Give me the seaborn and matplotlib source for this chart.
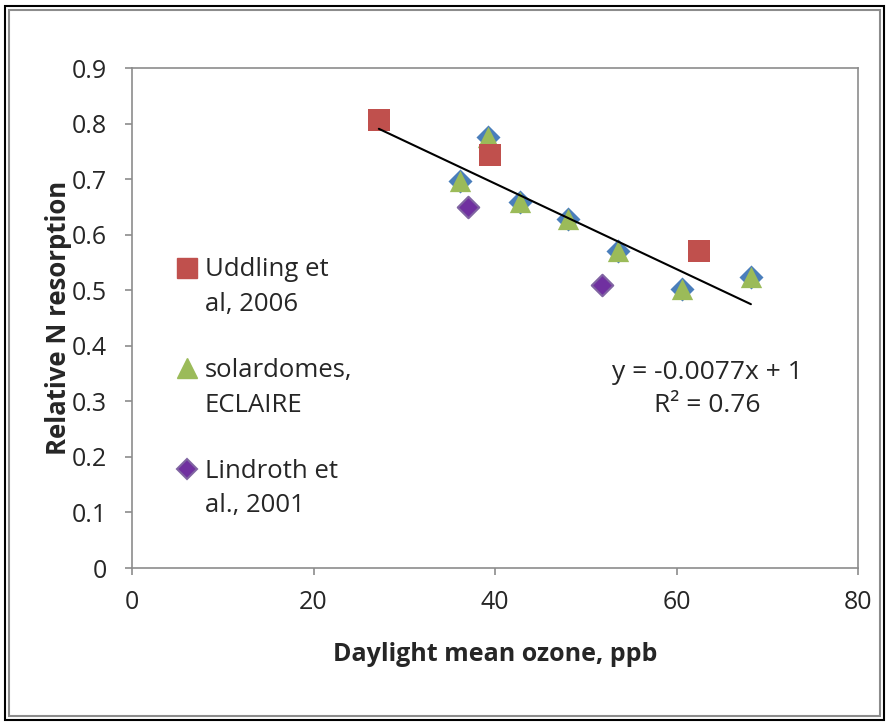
import matplotlib
matplotlib.use("Agg")
import matplotlib.pyplot as plt
import seaborn as sns
import numpy as np
import pandas as pd
from matplotlib.patches import Rectangle
from matplotlib.lines import Line2D

sns.set_theme(style="white")
plt.rcParams['font.family'] = ['Open Sans', 'DejaVu Sans']

# Data
uddling_x = [27.2, 39.4, 62.5]
uddling_y = [0.806, 0.743, 0.571]
solar_x = [36.1, 39.2, 42.8, 48.0, 53.6, 60.6, 68.2]
solar_y = [0.697, 0.776, 0.659, 0.629, 0.571, 0.502, 0.524]
lind_x = [37.0, 51.8]
lind_y = [0.650, 0.509]
trend_slope = -0.0077
trend_int = 1.0
trend_x = [27.2, 68.2]
xticks = [0, 20, 40, 60, 80]
yticks = [0, 0.1, 0.2, 0.3, 0.4, 0.5, 0.6, 0.7, 0.8, 0.9]
legend_lines = [('Uddling et', 'al, 2006'), ('solardomes,', 'ECLAIRE'), ('Lindroth et', 'al., 2001')]

FS = 18.5

fig = plt.figure(figsize=(8.89, 7.25), dpi=100)
ax = fig.add_axes([132/889, 1-568/725, (858-132)/889, (568-68)/725])

# outer frames
fig.patches.append(Rectangle((5/889, 5/725), 879/889, 714/725, transform=fig.transFigure,
                             fill=False, edgecolor='black', linewidth=1.5))
fig.patches.append(Rectangle((9/889, 9/725), 871/889, 706/725, transform=fig.transFigure,
                             fill=False, edgecolor='#8c8c8c', linewidth=1.5))

df_s = pd.DataFrame({'x': solar_x, 'y': solar_y})
df_u = pd.DataFrame({'x': uddling_x, 'y': uddling_y})
df_l = pd.DataFrame({'x': lind_x, 'y': lind_y})

# blue diamonds behind triangles
sns.scatterplot(data=df_s, x='x', y='y', marker='D', s=150, color='#4a7ebb',
                edgecolor='#4a7ebb', linewidth=0, ax=ax, legend=False, zorder=2)
sns.scatterplot(data=df_s, x='x', y='y', marker='^', s=235, color='#9bbb59',
                edgecolor='#9bbb59', linewidth=0, ax=ax, zorder=3, legend=False)
sns.scatterplot(data=df_u, x='x', y='y', marker='s', s=230, color='#c0504d',
                edgecolor='#c0504d', linewidth=0, ax=ax, zorder=3, legend=False)
sns.scatterplot(data=df_l, x='x', y='y', marker='D', s=120, color='#7030a0',
                edgecolor='#8064a2', linewidth=1.5, ax=ax, zorder=3, legend=False)

tx = np.array(trend_x)
ax.plot(tx, trend_slope * tx + trend_int, color='black', linewidth=1.5, zorder=4)

ax.set_xlim(0, 80)
ax.set_ylim(0, 0.9)
ax.set_xticks(xticks)
ax.set_yticks(yticks)
ax.set_xticklabels([str(t) for t in xticks], fontsize=18)
ax.set_yticklabels(['0'] + [f'{t:.1f}' for t in yticks[1:]], fontsize=18)
ax.tick_params(axis='both', direction='out', length=5, width=1.2, color='#8c8c8c',
               bottom=True, left=True)
ax.tick_params(axis='x', pad=11)
ax.tick_params(axis='y', pad=13)
for sp in ax.spines.values():
    sp.set_color('#8c8c8c')
    sp.set_linewidth(1.2)

ax.set_xlabel('Daylight mean ozone, ppb', fontsize=18, fontweight='bold', labelpad=19)
ax.set_ylabel('Relative N resorption', fontsize=18.5, fontweight='bold', labelpad=0)

blank = Line2D([], [], linestyle='none', marker=None)
mk = [Line2D([], [], linestyle='none', marker='s', markersize=14, color='#c0504d'),
      Line2D([], [], linestyle='none', marker='^', markersize=14, color='#9bbb59'),
      Line2D([], [], linestyle='none', marker='D', markersize=10, color='#7030a0',
             markeredgecolor='#8064a2', markeredgewidth=1.5)]
handles, labels, small = [], [], []
for i, (a, b) in enumerate(legend_lines):
    handles += [mk[i], blank]
    labels += [a, b]
    small += [False, False]
    if i < len(legend_lines) - 1:
        handles.append(blank)
        labels.append(' ')
        small.append(True)
leg = ax.legend(handles, labels, loc='upper left', bbox_to_anchor=(0.058, 0.621), frameon=False,
                fontsize=FS, handletextpad=0.2, labelspacing=0.37, handlelength=1.0,
                borderaxespad=0, borderpad=0)
for t, sm in zip(leg.get_texts(), small):
    if sm:
        t.set_fontsize(11)

ax.text(0.793, 0.358, 'y = -0.0077x + 1\nR² = 0.76', transform=ax.transAxes,
        ha='center', va='center', fontsize=19, linespacing=1.45)

fig.savefig('out.png', dpi=100)
